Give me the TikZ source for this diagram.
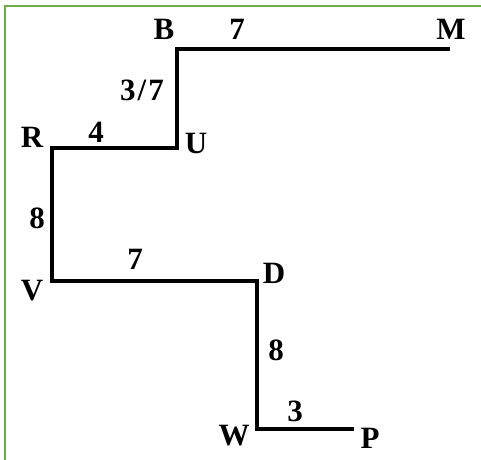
\documentclass[tikz,border=0pt]{standalone}
\usepackage{fontspec}
\setmainfont{Liberation Serif}
\definecolor{framegreen}{RGB}{112,173,71}

\begin{document}
\begin{tikzpicture}[x=1pt,y=-1pt,
    pathline/.style={line width=4pt,black,line join=miter},
    lbl/.style={font=\fontsize{31}{33}\selectfont\bfseries,inner sep=0pt}]

  \useasboundingbox (0,0) rectangle (481,459);

  %% ---- frame (only top and left edges show) ----
  \draw[framegreen,line width=2pt] (5,470) -- (5,6) -- (490,6);

  %% ---- corners of the walk ----
  \coordinate (m) at (450,49);
  \coordinate (b) at (177,49);
  \coordinate (u) at (177,148);
  \coordinate (r) at (52,148);
  \coordinate (v) at (52,281);
  \coordinate (d) at (257,281);
  \coordinate (w) at (257,429);
  \coordinate (p) at (354,429);

  % the route
  \draw[pathline] (m) -- (b) -- (u) -- (r) -- (v) -- (d) -- (w) -- (p);

  %% ---- letters ----
  \node[lbl] (labB) at (164,29) {B};
  \node[lbl] (labM) at (451,29) {M};
  \node[lbl] (labR) at (32,137) {R};
  \node[lbl] (labU) at (196,143) {U};
  \node[lbl] (labV) at (32,291) {V};
  \node[lbl] (labD) at (274,273) {D};
  \node[lbl] (labW) at (234,436) {W};
  \node[lbl] (labP) at (370,438) {P};

  %% ---- distances ----
  \node[lbl] (distBM) at (237,29) {7};
  \node[lbl] (distBU) at (142,90) {3\kern2pt/\kern2pt7};
  \node[lbl] (distRU) at (96,132) {4};
  \node[lbl] (distRV) at (37,218) {8};
  \node[lbl] (distVD) at (135,259) {7};
  \node[lbl] (distDW) at (276,350) {8};
  \node[lbl] (distWP) at (295,411) {3};

\end{tikzpicture}
\end{document}
